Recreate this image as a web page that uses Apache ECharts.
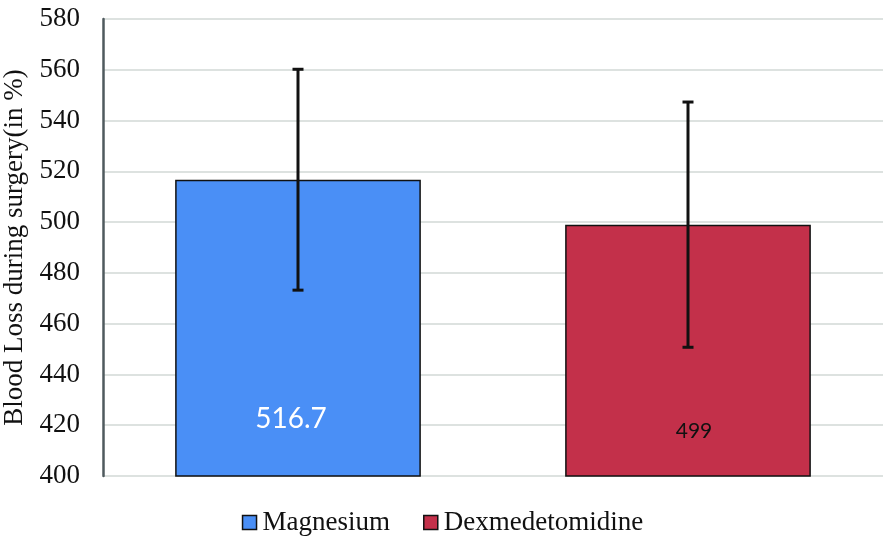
<!DOCTYPE html>
<html>
<head>
<meta charset="utf-8">
<script src="https://cdn.jsdelivr.net/npm/echarts@6/dist/echarts.min.js"></script>
<style>html,body{margin:0;padding:0;background:#fff}#c{width:885px;height:544px}</style>
</head>
<body>
<div id="c"></div>
<script>
const categories = ['Magnesium', 'Dexmedetomidine'];
const means = [516.7, 499];
const errPlus = [43.5, 48.3];
const errMinus = [43.5, 48.3];
const colors = ['#4A8FF6', '#C3304A'];
const labelColors = ['#ffffff', '#111111'];
const yTicks = { min: 400, max: 580, interval: 20 };

const chart = echarts.init(document.getElementById('c'));
const serif = '"Liberation Serif", "DejaVu Serif", serif';

const barSeries = categories.map((name, i) => ({
  name: name,
  type: 'bar',
  data: categories.map((c, j) => j === i ? means[i] : '-'),
  barWidth: '63%',
  barGap: '-100%',
  itemStyle: { color: colors[i], borderColor: '#111', borderWidth: 1.5 },
  label: {
    show: true,
    position: 'insideBottom',
    distance: i === 0 ? 44 : 35,
    offset: i === 0 ? [-7, 0] : [6, 0],
    color: labelColors[i],
    fontFamily: 'Lato, "Open Sans", sans-serif',
    fontSize: i === 0 ? 28 : 21
  }
}));

const errSeries = {
  type: 'custom',
  name: 'err',
  z: 10,
  renderItem: function (params, api) {
    const x = api.value(0);
    const lo = api.coord([x, api.value(1)]);
    const hi = api.coord([x, api.value(2)]);
    const hw = 5.5;
    const st = { stroke: '#111', lineWidth: 3 };
    return {
      type: 'group',
      children: [
        { type: 'line', shape: { x1: lo[0], y1: lo[1], x2: hi[0], y2: hi[1] }, style: st },
        { type: 'line', shape: { x1: lo[0] - hw, y1: lo[1], x2: lo[0] + hw, y2: lo[1] }, style: st },
        { type: 'line', shape: { x1: hi[0] - hw, y1: hi[1], x2: hi[0] + hw, y2: hi[1] }, style: st }
      ]
    };
  },
  data: categories.map((c, i) => [i, means[i] - errMinus[i], means[i] + errPlus[i]])
};

chart.setOption({
  animation: false,
  grid: { left: 103, right: 2, top: 19, bottom: 68, containLabel: false, outerBoundsMode: 'none' },
  legend: {
    data: categories,
    bottom: 3,
    left: 'center',
    icon: 'rect',
    itemWidth: 14,
    itemHeight: 14,
    itemGap: 33,
    textStyle: { fontFamily: serif, fontSize: 27, color: '#111', padding: [0, 0, 0, 1] },
    itemStyle: { borderColor: '#111', borderWidth: 1.5 }
  },
  xAxis: {
    type: 'category',
    data: categories,
    axisLine: { show: false },
    axisTick: { show: false },
    axisLabel: { show: false }
  },
  yAxis: {
    type: 'value',
    min: yTicks.min,
    max: yTicks.max,
    interval: yTicks.interval,
    name: 'Blood Loss during surgery(in %)',
    nameLocation: 'middle',
    nameGap: 66,
    nameTextStyle: { fontFamily: serif, fontSize: 27, color: '#111' },
    axisLine: { show: true, lineStyle: { color: '#4f5a5e', width: 2.5 } },
    axisTick: { show: false },
    axisLabel: { fontFamily: serif, fontSize: 27, color: '#111', margin: 23 },
    splitLine: { lineStyle: { color: '#dde2e0', width: 2 } }
  },
  series: [...barSeries, errSeries]
});
</script>
</body>
</html>
